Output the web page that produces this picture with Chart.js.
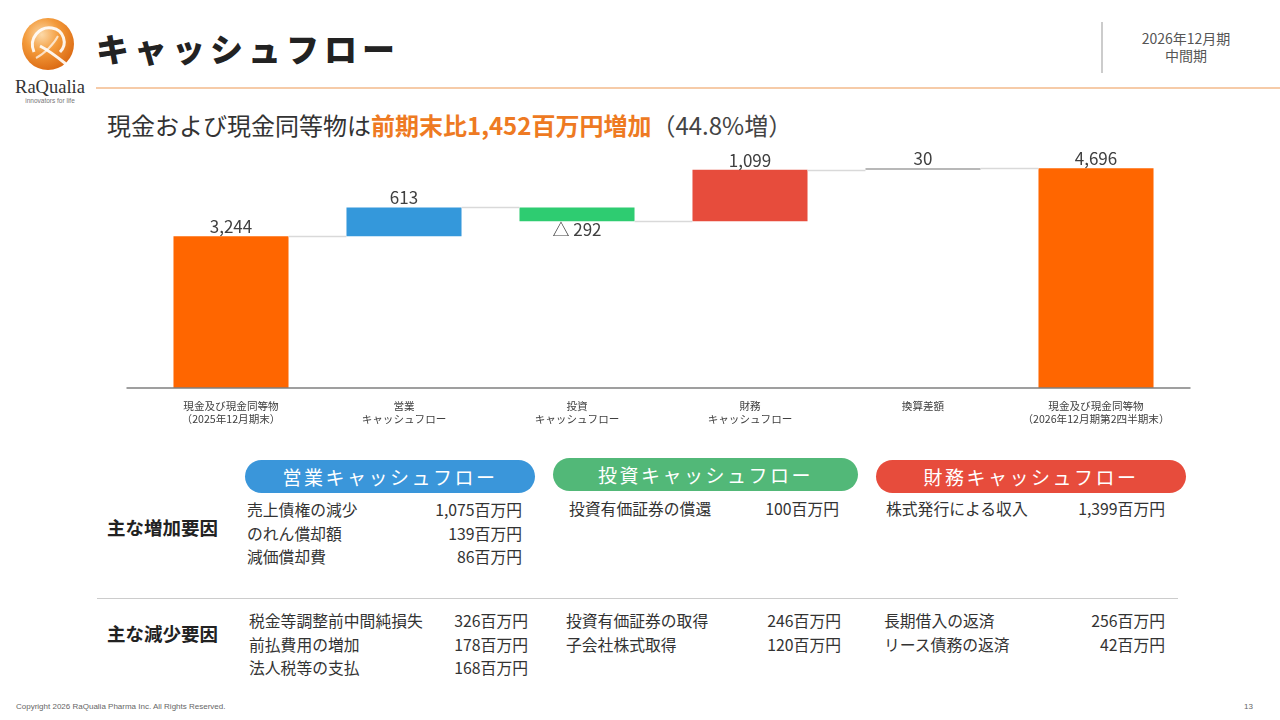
<!DOCTYPE html>
<html lang="ja">
<head>
<meta charset="utf-8">
<title>キャッシュフロー</title>
<script src="https://cdn.jsdelivr.net/npm/chart.js@4/dist/chart.umd.min.js"></script>
<style>
	html, body { margin: 0; padding: 0; background: #fff; }
	body { width: 1280px; height: 720px; position: relative; overflow: hidden;
		font-family: "Noto Sans CJK JP", "Noto Sans", sans-serif; color: #333; }
	.abs { position: absolute; white-space: nowrap; }
	#title { left: 96px; top: 24px; font-size: 33px; font-weight: 900; letter-spacing: 5px; color: #222; line-height: 48px; }
	#rule { left: 96px; top: 87px; width: 1184px; height: 2px; background: #F6CBA8; }
	#vsep { left: 1101px; top: 22px; width: 2px; height: 51px; background: #ccc; }
	#period { left: 1126px; top: 30px; width: 120px; text-align: center; font-size: 14px; line-height: 17px; color: #555; }
	#lead { left: 107px; top: 107px; font-size: 24px; line-height: 36px; color: #333; }
	#lead b { color: #EE7A22; font-weight: 700; }
	#lead span.g { color: #444; }
	#chartBox { left: 100px; top: 140px; width: 1110px; height: 290px; }
	.pill { height: 33px; border-radius: 17px; color: #fff; font-size: 19px; letter-spacing: 2.5px;
		text-align: center; line-height: 33px; }
	.rowhead { left: 107px; font-size: 18.5px; font-weight: 700; color: #222; line-height: 24px; }
	.item { font-size: 15.8px; line-height: 23.5px; color: #333; }
	#hsep { left: 97px; top: 598px; width: 1081px; height: 1px; background: #ccc; }
	#copy { left: 16px; top: 702px; font-size: 8px; color: #666; font-family: "Liberation Sans", Arial, sans-serif; }
	#page { left: 1244px; top: 702px; font-size: 8px; color: #666; font-family: "Liberation Sans", Arial, sans-serif; }
	#logo { left: 8px; top: 14px; width: 84px; height: 96px; }
</style>
</head>
<body>
<svg id="logo" class="abs" viewBox="0 0 84 96">
	<defs>
		<radialGradient id="lg" cx="0.38" cy="0.32" r="0.75">
			<stop offset="0" stop-color="#FCD9A8"/>
			<stop offset="0.45" stop-color="#F39A3A"/>
			<stop offset="1" stop-color="#D9650F"/>
		</radialGradient>
	</defs>
	<circle cx="40" cy="30" r="26" fill="url(#lg)"/>
	<path d="M26 38 C20 24 32 12 44 14 C56 16 60 30 52 38" fill="none" stroke="#fff" stroke-width="3" opacity="0.9"/>
	<path d="M32 32 C40 36 48 42 58 50" fill="none" stroke="#fff" stroke-width="3" opacity="0.9"/>
	<path d="M28 44 C36 40 46 30 50 22" fill="none" stroke="#fff" stroke-width="2" opacity="0.7"/>
	<text x="42" y="79" text-anchor="middle" font-family="Liberation Serif, serif" font-size="18.5" fill="#333">RaQualia</text>
	<text x="42" y="89" text-anchor="middle" font-family="Liberation Sans, sans-serif" font-size="6.5" fill="#777">innovators for life</text>
</svg>
<div id="title" class="abs">キャッシュフロー</div>
<div id="rule" class="abs"></div>
<div id="vsep" class="abs"></div>
<div id="period" class="abs">2026年12月期<br>中間期</div>
<div id="lead" class="abs">現金および現金同等物は<b>前期末比1,452百万円増加</b><span class="g">（44.8%増）</span></div>
<div id="chartBox" class="abs"><canvas id="cfChart"></canvas></div>
<div id="tables"></div>
<div id="hsep" class="abs"></div>
<div id="copy" class="abs">Copyright 2026 RaQualia Pharma Inc. All Rights Reserved.</div>
<div id="page" class="abs">13</div>

<script>
	'use strict';
	// chart data (百万円)
	const categories = [
		['現金及び現金同等物', '（2025年12月期末）'],
		['営業', 'キャッシュフロー'],
		['投資', 'キャッシュフロー'],
		['財務', 'キャッシュフロー'],
		'換算差額',
		['現金及び現金同等物', '（2026年12月期第2四半期末）']
	];
	const openingBalance = 3244;
	const flowValues = [613, -292, 1099, 30];
	const closingBalance = 4696;
	const barColors = ['#FF6600', '#3498DB', '#2ECC71', '#E74C3C', '#A0A0A0', '#FF6600'];
	const yMax = 5000;

	// detail tables
	const opIncrease = [['売上債権の減少', '1,075百万円'], ['のれん償却額', '139百万円'], ['減価償却費', '86百万円']];
	const opDecrease = [['税金等調整前中間純損失', '326百万円'], ['前払費用の増加', '178百万円'], ['法人税等の支払', '168百万円']];
	const invIncrease = [['投資有価証券の償還', '100百万円']];
	const invDecrease = [['投資有価証券の取得', '246百万円'], ['子会社株式取得', '120百万円']];
	const finIncrease = [['株式発行による収入', '1,399百万円']];
	const finDecrease = [['長期借入の返済', '256百万円'], ['リース債務の返済', '42百万円']];

	function fmt(n) {
		const s = Math.abs(n).toLocaleString('en-US');
		return n < 0 ? '△ ' + s : s;
	}

	// floating ranges + label texts
	const ranges = [[0, openingBalance]];
	const labelVals = [openingBalance];
	let level = openingBalance;
	for (const v of flowValues) {
		ranges.push([level, level + v]);
		labelVals.push(v);
		level += v;
	}
	ranges.push([0, closingBalance]);
	labelVals.push(closingBalance);

	const waterfallDeco = {
		id: 'waterfallDeco',
		afterDatasetsDraw(chart) {
			const { ctx, chartArea, scales } = chart;
			const bars = chart.getDatasetMeta(0).data;
			const y = scales.y;
			ctx.save();
			// connectors
			ctx.strokeStyle = '#D9D9D9';
			ctx.lineWidth = 1.5;
			for (let i = 0; i < bars.length - 1; i++) {
				const lv = ranges[i][1];
				const py = Math.round(y.getPixelForValue(lv)) + 0.5;
				ctx.beginPath();
				ctx.moveTo(bars[i].x + bars[i].width / 2, py);
				ctx.lineTo(bars[i + 1].x - bars[i + 1].width / 2, py);
				ctx.stroke();
			}
			// baseline
			ctx.strokeStyle = '#7F7F7F';
			ctx.lineWidth = 1.5;
			const by = y.getPixelForValue(0);
			ctx.beginPath();
			ctx.moveTo(chartArea.left - 18, by);
			ctx.lineTo(chartArea.right + 8, by);
			ctx.stroke();
			// value labels
			ctx.font = '17px "Noto Sans CJK JP", "Noto Sans", sans-serif';
			ctx.fillStyle = '#404040';
			ctx.textAlign = 'center';
			bars.forEach((b, i) => {
				const v = labelVals[i];
				const r = ranges[i];
				if (v < 0) {
					ctx.textBaseline = 'top';
					ctx.fillText(fmt(v), b.x, y.getPixelForValue(Math.min(r[0], r[1])) + 0);
				} else {
					ctx.textBaseline = 'bottom';
					ctx.fillText(fmt(v), b.x, y.getPixelForValue(Math.max(r[0], r[1])) - 1);
				}
			});
			ctx.restore();
		}
	};

	new Chart(document.getElementById('cfChart'), {
		type: 'bar',
		data: {
			labels: categories,
			datasets: [{ data: ranges, backgroundColor: barColors, borderSkipped: false,
				barPercentage: 0.665, categoryPercentage: 1 }]
		},
		options: {
			responsive: true,
			maintainAspectRatio: false,
			animation: false,
			layout: { padding: { left: 44.5, right: 27.5, top: 14, bottom: 2 } },
			plugins: { legend: { display: false }, tooltip: { enabled: false } },
			scales: {
				x: {
					grid: { display: false },
					border: { display: false },
					ticks: { padding: 4, color: '#404040', maxRotation: 0, autoSkip: false,
						font: { size: 10.6, family: '"Noto Sans CJK JP", sans-serif', lineHeight: 1.22 } },
					afterFit(scale) { scale.height = 40; }
				},
				y: { display: false, min: 0, max: yMax }
			}
		},
		plugins: [waterfallDeco]
	});

	// tables below the chart
	const tables = document.getElementById('tables');
	function addEl(cls, text, css) {
		const d = document.createElement('div');
		d.className = 'abs ' + cls;
		d.textContent = text;
		Object.assign(d.style, css);
		tables.appendChild(d);
		return d;
	}
	function addBlock(rows, left, right, top) {
		rows.forEach((r, i) => {
			addEl('item', r[0], { left: left + 'px', top: (top + i * 23.5) + 'px' });
			addEl('item', r[1], { left: (right - 140) + 'px', width: '140px', textAlign: 'right', top: (top + i * 23.5) + 'px' });
		});
	}
	addEl('pill', '営業キャッシュフロー', { left: '245px', top: '460px', width: '290px', background: '#3A96DA' });
	addEl('pill', '投資キャッシュフロー', { left: '553px', top: '458px', width: '305px', background: '#52B878' });
	addEl('pill', '財務キャッシュフロー', { left: '876px', top: '460px', width: '310px', background: '#E74C3C' });
	addEl('rowhead', '主な増加要因', { top: '515px' });
	addEl('rowhead', '主な減少要因', { top: '621px' });
	addBlock(opIncrease, 247, 522, 498);
	addBlock(opDecrease, 249, 528, 609);
	addBlock(invIncrease, 569, 839, 497);
	addBlock(invDecrease, 566, 841, 609);
	addBlock(finIncrease, 886, 1165, 497);
	addBlock(finDecrease, 884, 1165, 609);
</script>
</body>
</html>
